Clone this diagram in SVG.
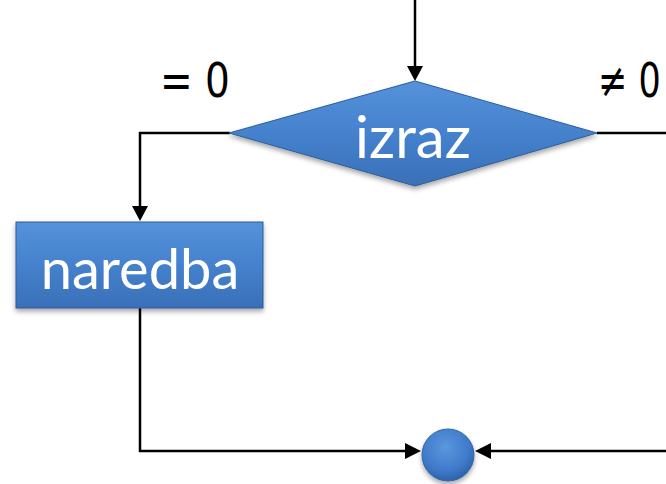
<svg xmlns="http://www.w3.org/2000/svg" width="666" height="484" viewBox="0 0 666 484">
  <style>
    .conn { fill: none; stroke: #000; stroke-width: 2.5; }
    .shape { stroke: #2d5d9a; stroke-width: 1; }
    .label { fill: #fff; font-family: Lato, "Open Sans", sans-serif; text-anchor: middle; }
    .cond { fill: #000; font-family: "DejaVu Sans", sans-serif; }
  </style>
  <defs>
    <linearGradient id="blue" x1="0" y1="0" x2="0" y2="1">
      <stop offset="0" stop-color="#5592da"/>
      <stop offset="0.5" stop-color="#4581cd"/>
      <stop offset="1" stop-color="#3a70b8"/>
    </linearGradient>
    <radialGradient id="ball" cx="0.45" cy="0.35" r="0.65">
      <stop offset="0" stop-color="#5a97de"/>
      <stop offset="0.7" stop-color="#3f7aca"/>
      <stop offset="1" stop-color="#2e62a8"/>
    </radialGradient>
    <filter id="shadow" x="-10%" y="-10%" width="120%" height="130%">
      <feDropShadow dx="0" dy="3" stdDeviation="2.5" flood-color="#000" flood-opacity="0.35"/>
    </filter>
  </defs>

  <g id="connectors">
    <line class="conn" x1="415" y1="0" x2="415" y2="68"/>
    <polyline class="conn" points="230,133 140,133 140,208"/>
    <polyline class="conn" points="597,133 666,133"/>
    <polyline class="conn" points="140,308 140,451 407,451"/>
    <polyline class="conn" points="666,451 489,451"/>
    <path d="M407,66 L423,66 L415,81 z" fill="#000"/>
    <path d="M132,206 L148,206 L140,221 z" fill="#000"/>
    <path d="M405,443 L405,459 L421,451 z" fill="#000"/>
    <path d="M491,443 L491,459 L475,451 z" fill="#000"/>
  </g>

  <!-- branch labels: condensed by stretching the glyphs vertically -->
  <g id="cond-zero">
    <text class="cond" font-size="39" transform="translate(160,97) scale(1,1.25)">= 0</text>
  </g>
  <g id="cond-nonzero">
    <text class="cond" font-size="35" transform="translate(598,97) scale(1,1.38)">≠ 0</text>
  </g>

  <g id="izraz" filter="url(#shadow)">
    <polygon class="shape" points="415,81 597,133 415,186 229,133" fill="url(#blue)"/>
    <text class="label" x="413" y="158" font-size="58">izraz</text>
  </g>

  <g id="naredba" filter="url(#shadow)">
    <rect class="shape" x="16" y="222" width="247" height="86" fill="url(#blue)"/>
    <text class="label" x="140" y="289" font-size="56">naredba</text>
  </g>

  <g id="join" filter="url(#shadow)">
    <circle cx="448" cy="455" r="26" fill="url(#ball)" stroke="#3066ac" stroke-width="1"/>
  </g>
</svg>
